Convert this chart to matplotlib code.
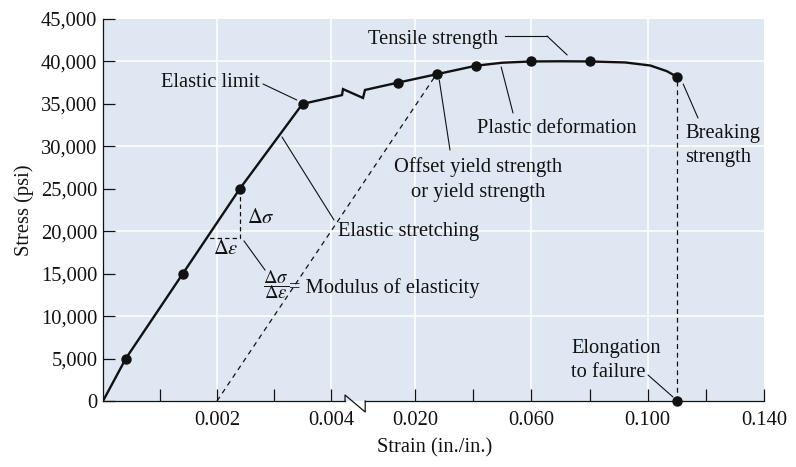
import matplotlib
matplotlib.use("Agg")
import matplotlib.pyplot as plt
from matplotlib.lines import Line2D

plt.rcParams['font.family'] = ['Liberation Serif', 'DejaVu Serif']
plt.rcParams['mathtext.fontset'] = 'stix'

# ---------------- data ----------------
elastic_strain = [0.0, 0.0004, 0.0014, 0.0024, 0.0035]
elastic_stress = [0, 5000, 15000, 25000, 35000]

plastic_strain = [0.014, 0.0275, 0.041, 0.060, 0.080, 0.110]
plastic_stress = [37500, 38500, 39500, 40000, 40000, 38200]

# traced curve through the plastic region
curve_strain = [0.014, 0.0275, 0.041, 0.050, 0.060, 0.070, 0.080, 0.0923, 0.1009, 0.1066, 0.110]
curve_stress = [37500, 38500, 39500, 39850, 40000, 40020, 40000, 39880, 39520, 38850, 38200]

offset_strain = 0.002          # 0.2 % offset
yield_point = (0.0275, 38500)  # offset yield strength
break_point = (0.110, 38200)   # breaking strength
delta_low_stress = 19200       # lower end of the delta-sigma construction

left_ticks = [0.002, 0.004]
left_minor = [0.001, 0.003]
left_ticklabels = ['0.002', '0.004']
right_ticks = [0.020, 0.060, 0.100, 0.140]
right_minor = [0.040, 0.080, 0.120]
right_ticklabels = ['0.020', '0.060', '0.100', '0.140']
y_ticks = list(range(0, 45001, 5000))
y_ticklabels = [f"{v:,}" for v in y_ticks]
grid_y = [10000, 20000, 30000, 40000]

# ---------------- layout ----------------
W, H = 796, 467
fig = plt.figure(figsize=(W / 100, H / 100), dpi=100)
BG = '#dfe8f2'
FS = 14.8
INK = '#111111'

x0, xs, x1 = 103, 357, 764
ytop, ybot = 19, 401
axl = fig.add_axes([x0 / W, 1 - ybot / H, (xs - x0) / W, (ybot - ytop) / H])
axr = fig.add_axes([xs / W, 1 - ybot / H, (x1 - xs) / W, (ybot - ytop) / H])

axl.set_xlim(0, 0.0044561)
axr.set_xlim(0, 0.14)
for ax in (axl, axr):
    ax.set_ylim(0, 45000)
    ax.set_facecolor(BG)
    ax.set_axisbelow(True)
    for s in ('top', 'right'):
        ax.spines[s].set_visible(False)
    ax.spines['bottom'].set_linewidth(0.9)
    ax.spines['bottom'].set_color(INK)
    for g in grid_y:
        ax.axhline(g, color='white', lw=1.1, zorder=0.5)
axr.spines['left'].set_visible(False)
axl.spines['left'].set_linewidth(0.9)
axl.spines['left'].set_color(INK)

xbreak_l, xbreak_r = 0.004246, 0.00282
axl.spines['bottom'].set_bounds(0, xbreak_l)
axr.spines['bottom'].set_bounds(xbreak_r, 0.14)

for v in left_ticks:
    axl.axvline(v, color='white', lw=1.1, zorder=0.5)
for v in right_ticks[:-1]:
    axr.axvline(v, color='white', lw=1.1, zorder=0.5)

axl.set_xticks(left_ticks)
axl.set_xticklabels(left_ticklabels)
axl.set_xticks(left_minor, minor=True)
axr.set_xticks(right_ticks)
axr.set_xticklabels(right_ticklabels)
axr.set_xticks(right_minor, minor=True)
axl.set_yticks(y_ticks)
axl.set_yticklabels(y_ticklabels)
axr.set_yticks([])

for ax in (axl, axr):
    ax.tick_params(axis='x', which='both', direction='in', length=8.6, width=0.9,
                   color=INK, labelsize=FS, pad=7.5, labelcolor=INK)
axl.tick_params(axis='y', direction='in', length=8.6, width=0.9, color=INK,
                labelsize=FS, pad=4, labelcolor=INK)

axl.set_ylabel('Stress (psi)', fontsize=FS, labelpad=5, color=INK)
fig.text(435 / W, 1 - 452 / H, 'Strain (in./in.)', fontsize=FS, ha='center',
         va='baseline', color=INK)

# ---------------- curve ----------------
LW = 1.7
MS = 6.5
axl.plot(elastic_strain, elastic_stress, color=INK, lw=LW, zorder=3)
axl.plot(elastic_strain[1:], elastic_stress[1:], 'o', color=INK, ms=MS, zorder=4)
axr.plot(curve_strain, curve_stress, color=INK, lw=LW, zorder=3)
axr.plot(plastic_strain, plastic_stress, 'o', color=INK, ms=MS, zorder=4)

# breaking strength drop line and elongation point
axr.plot([break_point[0], break_point[0]], [0, break_point[1]], color=INK, lw=0.9,
         dashes=(4, 3), zorder=2)
axr.plot([break_point[0]], [0], 'o', color=INK, ms=MS, zorder=5, clip_on=False)

# offset yield line (parallel to elastic line, drawn in left-axes units, crossing the break)
E = elastic_stress[-1] / elastic_strain[-1]
fig.add_artist(Line2D([offset_strain, offset_strain + yield_point[1] / E], [0, yield_point[1]],
                      color=INK, lw=0.9, dashes=(4, 3.5), zorder=3,
                      transform=axl.transData))

# delta construction
p_strain, p_stress = elastic_strain[3], elastic_stress[3]
low_strain = elastic_strain[2] + (delta_low_stress - elastic_stress[2]) / E
axl.plot([p_strain, p_strain, low_strain], [p_stress, delta_low_stress, delta_low_stress],
         color=INK, lw=0.9, dashes=(3.5, 2.5), zorder=2)

# ---------------- break symbols ----------------
inv = fig.transFigure.inverted()
def to_fig(pts):
    return inv.transform(pts)

# curve zig-zag
Ed = axl.transData.transform((elastic_strain[-1], elastic_stress[-1]))
Fd = axr.transData.transform((plastic_strain[0], plastic_stress[0]))
def on_line(x):
    return (x, Ed[1] + (Fd[1] - Ed[1]) * (x - Ed[0]) / (Fd[0] - Ed[0]))
Ld = on_line(xs - 15)
Rd = on_line(xs + 8)
pts = [Ed, Ld, (Ld[0] + 1, Ld[1] + 6), (Rd[0] - 2, Rd[1] - 8), Rd, Fd]
fp = to_fig(pts)
fig.add_artist(Line2D(fp[:, 0], fp[:, 1], color=INK, lw=LW, transform=fig.transFigure,
                      solid_joinstyle='miter', zorder=3))

# axis break
Ad = axl.transData.transform((xbreak_l, 0))
Bd = axr.transData.transform((xbreak_r, 0))
pts = [Ad, (Ad[0], Ad[1] + 6), (Bd[0], Bd[1] - 11), Bd]
fp = to_fig(pts)
fig.add_artist(Line2D(fp[:, 0], fp[:, 1], color=INK, lw=0.9, transform=fig.transFigure,
                      zorder=3))

# ---------------- annotations ----------------
def label(x, y, s, ha='left', size=FS, va='baseline'):
    fig.text(x / W, 1 - y / H, s, fontsize=size, ha=ha, va=va, color=INK)

def leader(start, ax, xy):
    ax.annotate('', xy=xy, xycoords='data', xytext=(start[0] / W, 1 - start[1] / H),
                textcoords='figure fraction', annotation_clip=False,
                arrowprops=dict(arrowstyle='-', lw=0.8, color=INK,
                                shrinkA=0, shrinkB=0))

def hline_px(xa, xb, y, lw=0.8):
    fig.add_artist(Line2D([xa / W, xb / W], [1 - y / H, 1 - y / H], color=INK, lw=lw,
                          transform=fig.transFigure))

label(368, 44, 'Tensile strength')
hline_px(505, 547, 36)
leader((547, 36), axr, (0.0723, 40760))

label(260, 87, 'Elastic limit', ha='right')
leader((263, 84), axl, (0.0034, 35460))

label(477, 133, 'Plastic deformation')
leader((513, 113), axr, (0.0496, 39350))

label(478, 172, 'Offset yield strength', ha='center')
label(478, 197, 'or yield strength', ha='center')
leader((450, 150), axr, (0.0283, 37810))

label(685, 138, 'Breaking')
label(685, 162, 'strength')
leader((698, 118), axr, (0.1122, 37340))

label(338, 236, 'Elastic stretching')
leader((334, 220), axl, (0.00314, 31100))

label(571, 353, 'Elongation')
label(571, 377, 'to failure')
leader((648, 375), axr, (0.1087, 470))

label(247, 223, r'$\Delta\sigma$')
label(213, 254, r'$\Delta\varepsilon$')
fig.add_artist(Line2D([244 / W, 265 / W], [1 - 241 / H, 1 - 270 / H], color=INK, lw=0.8,
                      transform=fig.transFigure))
# modulus fraction
label(276, 283, r'$\Delta\sigma$', ha='center', size=13.5)
hline_px(264, 288.5, 285.8, lw=0.7)
label(276, 298.5, r'$\Delta\varepsilon$', ha='center', size=13.5)
label(289, 293, '= Modulus of elasticity')

fig.savefig('out.png', dpi=100)
